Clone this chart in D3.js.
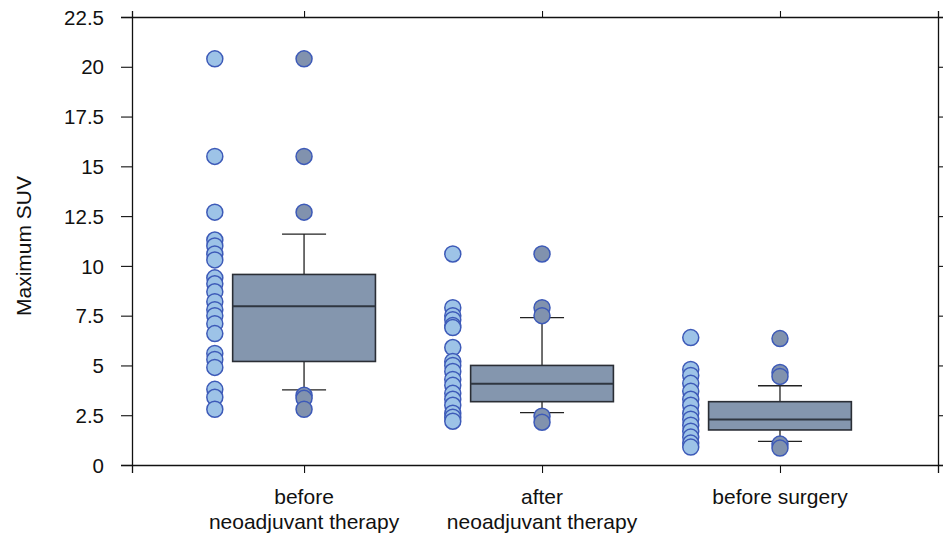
<!DOCTYPE html>
<html>
<head>
<meta charset="utf-8">
<script src="https://cdn.jsdelivr.net/npm/d3@7"></script>
<style>
  body { margin: 0; background: #fff; }
  text { font-family: Arial, "Liberation Sans", sans-serif; fill: #111; }
</style>
</head>
<body>
<div id="chart"></div>
<script>
// chart size + margins
const width = 943;
const height = 535;
const margin = {left: 132, right: 5, top: 17, bottom: 70};

// categories (each label split in lines)
const categories = [
  ["before", "neoadjuvant therapy"],
  ["after", "neoadjuvant therapy"],
  ["before surgery"]
];

// raw points shown in the strip left of each box
const pointsBefore = [20.4, 15.5, 12.7, 11.3, 11.0, 10.6, 10.3, 9.4, 9.1, 8.7, 8.2, 7.8, 7.5, 7.1, 6.6, 5.6, 5.3, 4.9, 3.8, 3.4, 2.8];
const pointsAfter = [10.6, 7.9, 7.5, 7.3, 7.0, 6.9, 5.9, 5.2, 5.0, 4.7, 4.3, 4.0, 3.6, 3.3, 3.0, 2.6, 2.4, 2.2];
const pointsSurgery = [6.4, 4.8, 4.5, 4.1, 3.7, 3.3, 3.0, 2.6, 2.3, 2.0, 1.7, 1.4, 1.1, 0.9];

// box statistics
const q1 = [5.2, 3.18, 1.76];
const medians = [7.97, 4.08, 2.28];
const q3 = [9.57, 5.0, 3.18];
const whiskerLow = [3.77, 2.63, 1.19];
const whiskerHigh = [11.6, 7.4, 3.98];

// outliers drawn on the box column
const outliersBefore = [20.4, 15.5, 12.7, 3.5, 3.35, 2.8];
const outliersAfter = [10.6, 7.9, 7.5, 2.45, 2.15];
const outliersSurgery = [6.35, 4.65, 4.45, 1.05, 0.85];

// y ticks
const yTicks = [0, 2.5, 5, 7.5, 10, 12.5, 15, 17.5, 20, 22.5];
const yTickLabels = ["0", "2.5", "5", "7.5", "10", "12.5", "15", "17.5", "20", "22.5"];

const allPoints = [pointsBefore, pointsAfter, pointsSurgery];
const allOutliers = [outliersBefore, outliersAfter, outliersSurgery];

const svg = d3.select("#chart")
  .append("svg")
  .attr("width", width)
  .attr("height", height);

// scales
const x = d3.scaleLinear()
  .domain([0.277, 3.664])
  .range([margin.left, 938]);

const y = d3.scaleLinear()
  .domain([0, 22.5])
  .range([height - margin.bottom, margin.top]);

const boxW = 0.6;   // in x units
const capW = 0.185;
const stripOffset = -0.375;
const r = 8;

// axes
svg.append("g")
  .attr("transform", `translate(${margin.left},0)`)
  .call(d3.axisLeft(y).tickValues(yTicks).tickFormat((d, i) => yTickLabels[i]).tickSize(11).tickPadding(17))
  .call(g => g.selectAll("text").attr("font-size", "20.5px").attr("dy", "0.35em"));

svg.append("g")
  .attr("transform", `translate(938,0)`)
  .call(d3.axisRight(y).tickValues(yTicks).tickFormat("").tickSize(8));

svg.append("g")
  .attr("transform", `translate(0,${height - margin.bottom})`)
  .call(d3.axisBottom(x).tickValues([1, 2, 3]).tickFormat("").tickSize(8));

svg.append("g")
  .attr("transform", `translate(0,${margin.top})`)
  .call(d3.axisTop(x).tickValues([1, 2, 3]).tickFormat("").tickSize(6));

svg.selectAll(".domain").attr("stroke", "#111").attr("stroke-width", 1.3);
svg.selectAll(".tick line").attr("stroke", "#111").attr("stroke-width", 1.1);

// category labels
categories.forEach((lines, i) => {
  const t = svg.append("text")
    .attr("x", x(i + 1))
    .attr("y", 504)
    .attr("text-anchor", "middle")
    .attr("font-size", "21px");
  lines.forEach((ln, j) => {
    t.append("tspan").attr("x", x(i + 1)).attr("dy", j === 0 ? 0 : 25).text(ln);
  });
});

// y title
svg.append("text")
  .attr("transform", `translate(31,${y(11.0)}) rotate(-90)`)
  .attr("text-anchor", "middle")
  .attr("font-size", "21px")
  .text("Maximum SUV");

// strip points
allPoints.forEach((pts, i) => {
  svg.append("g").selectAll("circle")
    .data(pts)
    .enter()
    .append("circle")
      .attr("cx", x(i + 1 + stripOffset))
      .attr("cy", d => y(d))
      .attr("r", r)
      .attr("fill", "#9dc3e7")
      .attr("stroke", "#3d5ab8")
      .attr("stroke-width", 1.5);
});

// boxes
const boxes = svg.append("g");
categories.forEach((c, i) => {
  const cx = x(i + 1);
  const half = (x(i + 1 + boxW / 2) - x(i + 1 - boxW / 2)) / 2;
  const cap = (x(i + 1 + capW / 2) - x(i + 1 - capW / 2)) / 2;
  // whiskers
  boxes.append("line").attr("x1", cx).attr("x2", cx).attr("y1", y(whiskerHigh[i])).attr("y2", y(q3[i]))
    .attr("stroke", "#222").attr("stroke-width", 1.3);
  boxes.append("line").attr("x1", cx).attr("x2", cx).attr("y1", y(q1[i])).attr("y2", y(whiskerLow[i]))
    .attr("stroke", "#222").attr("stroke-width", 1.3);
  boxes.append("line").attr("x1", cx - cap).attr("x2", cx + cap).attr("y1", y(whiskerHigh[i])).attr("y2", y(whiskerHigh[i]))
    .attr("stroke", "#222").attr("stroke-width", 1.3);
  boxes.append("line").attr("x1", cx - cap).attr("x2", cx + cap).attr("y1", y(whiskerLow[i])).attr("y2", y(whiskerLow[i]))
    .attr("stroke", "#222").attr("stroke-width", 1.3);
  // box
  boxes.append("rect")
    .attr("x", cx - half)
    .attr("y", y(q3[i]))
    .attr("width", half * 2)
    .attr("height", y(q1[i]) - y(q3[i]))
    .attr("fill", "#8496ae")
    .attr("stroke", "#2a2e35")
    .attr("stroke-width", 1.6);
  boxes.append("line").attr("x1", cx - half).attr("x2", cx + half).attr("y1", y(medians[i])).attr("y2", y(medians[i]))
    .attr("stroke", "#2f3640").attr("stroke-width", 2);
});

// outliers
allOutliers.forEach((pts, i) => {
  svg.append("g").selectAll("circle")
    .data(pts)
    .enter()
    .append("circle")
      .attr("cx", x(i + 1))
      .attr("cy", d => y(d))
      .attr("r", r)
      .attr("fill", "#8192ae")
      .attr("stroke", "#3d5ab8")
      .attr("stroke-width", 1.5);
});
</script>
</body>
</html>
